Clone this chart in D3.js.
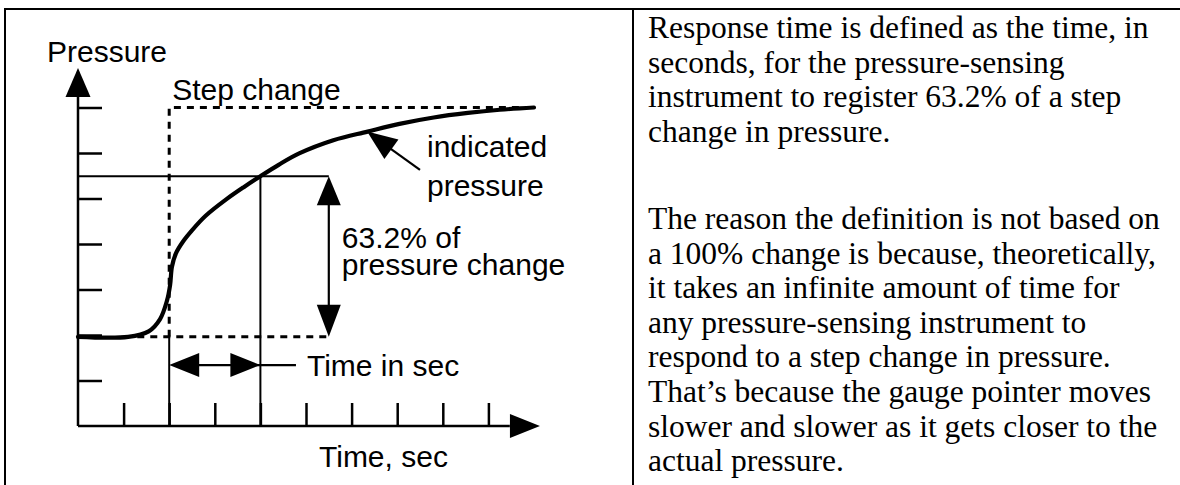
<!DOCTYPE html>
<html>
<head>
<meta charset="utf-8">
<script src="https://cdn.jsdelivr.net/npm/d3@7"></script>
<style>
  body { margin: 0; background: #fff; }
  svg { display: block; }
</style>
</head>
<body>
<svg id="chart" width="1180" height="485"></svg>
<script>
// Tick positions on the two axes (time units, pressure units)
const timeTicks = [1, 2, 3, 4, 5, 6, 7, 8, 9];
const pressureTicks = [1, 2, 3, 4, 5, 6, 7];

// The step change: starting level, final level and the moment of the step
const stepLow = 1.96;
const stepHigh = 7;
const stepTime = 2;

// Level reached at the response time (the "63.2%" line) and the response time
const responseLevel = 5.49;
const responseTime = 4;

// Indicated pressure
const curveTime = [0, 1.1, 1.55, 1.8, 1.95, 2.02, 2.06, 2.15, 2.3, 2.5, 2.8, 3.25, 3.65, 4.0, 4.4, 4.85, 5.6, 6.35, 7.05, 7.8, 8.55, 9.25, 10.0];
const curvePressure = [1.96, 1.96, 2.08, 2.35, 2.75, 3.1, 3.5, 3.8, 4.05, 4.3, 4.62, 4.98, 5.26, 5.49, 5.74, 5.99, 6.28, 6.47, 6.64, 6.78, 6.88, 6.95, 7.0];

// Explanation in the right hand cell, one entry per printed line
const paragraphOne = [
  'Response time is defined as the time, in',
  'seconds, for the pressure-sensing',
  'instrument to register 63.2% of a step',
  'change in pressure.'
];
const paragraphTwo = [
  'The reason the definition is not based on',
  'a 100% change is because, theoretically,',
  'it takes an infinite amount of time for',
  'any pressure-sensing instrument to',
  'respond to a step change in pressure.',
  'That\u2019s because the gauge pointer moves',
  'slower and slower as it gets closer to the',
  'actual pressure.'
];

const svg = d3.select('#chart');
const sans = 'Liberation Sans, Arial, sans-serif';
const serif = 'Liberation Serif, Times New Roman, serif';

// table frame: top rule, left rule and the divider between the two cells
const frame = svg.append('g').attr('stroke', '#000').attr('stroke-width', 2);
frame.append('line').attr('x1', 5).attr('x2', 1180).attr('y1', 9).attr('y2', 9);
frame.append('line').attr('x1', 5).attr('x2', 5).attr('y1', 8).attr('y2', 485);
frame.append('line').attr('x1', 633).attr('x2', 633).attr('y1', 8).attr('y2', 485);

// scales for the sketch
const x = d3.scaleLinear().domain([0, 10]).range([78, 534]);
const y = d3.scaleLinear().domain([0, 7]).range([426, 107.5]);

const plot = svg.append('g');

// draws a filled arrow head with its tip at `tip`, pointing away from `from` (pixel coords)
function arrowHead(g, tip, from, len = 30, half = 12) {
  const dx = tip[0] - from[0], dy = tip[1] - from[1];
  const d = Math.hypot(dx, dy);
  const ux = dx / d, uy = dy / d;
  const bx = tip[0] - ux * len, by = tip[1] - uy * len;
  const pts = [tip, [bx - uy * half, by + ux * half], [bx + uy * half, by - ux * half]];
  g.append('path').attr('d', d3.line()(pts) + 'Z').attr('fill', '#000').attr('stroke', 'none');
}

// x axis: ticks point upwards into the plot
const xAxis = plot.append('g')
  .attr('transform', `translate(0,${y(0)})`)
  .call(d3.axisBottom(x).tickValues(timeTicks).tickSize(-23).tickFormat(''));
xAxis.select('.domain').remove();
xAxis.selectAll('line').attr('stroke-width', 2.5);

// y axis: ticks point to the right
const yAxis = plot.append('g')
  .attr('transform', `translate(${x(0)},0)`)
  .call(d3.axisLeft(y).tickValues(pressureTicks).tickSize(-24).tickFormat(''));
yAxis.select('.domain').remove();
yAxis.selectAll('line').attr('stroke-width', 2.5);

// axis lines plus their arrows
plot.append('line')
  .attr('x1', x(0)).attr('x2', x(9.47)).attr('y1', y(0)).attr('y2', y(0))
  .attr('stroke', '#000').attr('stroke-width', 2.5);
arrowHead(plot, [x(10.13), y(0)], [x(0), y(0)], 30, 12);
plot.append('line')
  .attr('x1', x(0)).attr('x2', x(0)).attr('y1', y(0)).attr('y2', y(7.23))
  .attr('stroke', '#000').attr('stroke-width', 2.5);
arrowHead(plot, [x(0), y(7.87)], [x(0), y(0)], 29, 12.5);

// 63.2% level and the response time line (thin solid)
const thin = plot.append('g').attr('stroke', '#000').attr('stroke-width', 2).attr('fill', 'none');
thin.append('line').attr('x1', x(0)).attr('x2', x(5.5)).attr('y1', y(responseLevel)).attr('y2', y(responseLevel));
thin.append('line').attr('x1', x(responseTime)).attr('x2', x(responseTime)).attr('y1', y(responseLevel)).attr('y2', y(0));
thin.append('line').attr('x1', x(stepTime)).attr('x2', x(stepTime)).attr('y1', y(stepLow)).attr('y2', y(0));

// step change, dashed
const dashed = plot.append('g')
  .attr('stroke', '#000').attr('stroke-width', 3).attr('stroke-dasharray', '7,6').attr('fill', 'none');
dashed.append('path')
  .attr('d', d3.line()([[x(stepTime), y(stepLow)], [x(stepTime), y(stepHigh)], [x(9.9), y(stepHigh)]]));
dashed.append('line')
  .attr('x1', x(1.3)).attr('x2', x(5.5)).attr('y1', y(stepLow)).attr('y2', y(stepLow));

// indicated pressure curve
const curveLine = d3.line()
  .x(d => x(d[0]))
  .y(d => y(d[1]))
  .curve(d3.curveCatmullRom.alpha(0.5));
plot.append('path')
  .datum(curveTime.map((t, i) => [t, curvePressure[i]]))
  .attr('d', curveLine)
  .attr('fill', 'none')
  .attr('stroke', '#000')
  .attr('stroke-width', 4.2)
  .attr('stroke-linecap', 'round');

// vertical double arrow: size of the 63.2% change
const vx = x(5.5);
plot.append('line').attr('x1', vx).attr('x2', vx).attr('y1', y(responseLevel) + 20).attr('y2', y(stepLow) - 20)
  .attr('stroke', '#000').attr('stroke-width', 2.2);
arrowHead(plot, [vx, y(responseLevel)], [vx, y(stepLow)], 29, 12);
arrowHead(plot, [vx, y(stepLow)], [vx, y(responseLevel)], 32, 12);

// horizontal double arrow: the response time, with its leader line
const hy = y(1.34);
plot.append('line').attr('x1', x(stepTime) + 20).attr('x2', x(4.78)).attr('y1', hy).attr('y2', hy)
  .attr('stroke', '#000').attr('stroke-width', 2.2);
arrowHead(plot, [x(stepTime), hy], [x(responseTime), hy], 30, 12);
arrowHead(plot, [x(responseTime), hy], [x(stepTime), hy], 30, 12);

// pointer to the indicated pressure curve
const tail = [x(7.5), y(5.63)];
const tip = [x(6.34), y(6.47)];
plot.append('line').attr('x1', tail[0]).attr('y1', tail[1]).attr('x2', tip[0] + 15).attr('y2', tip[1] + 11)
  .attr('stroke', '#000').attr('stroke-width', 2.2);
arrowHead(plot, tip, tail, 30, 12);

// labels in the sketch
const labels = plot.append('g')
  .attr('font-family', sans)
  .attr('font-size', 30)
  .attr('fill', '#000');
labels.append('text').attr('x', 47).attr('y', 62).text('Pressure');
labels.append('text').attr('x', x(stepTime) + 3).attr('y', 100).text('Step change');
labels.append('text').attr('x', 427).attr('y', 157).text('indicated');
labels.append('text').attr('x', 427).attr('y', 196).text('pressure');
labels.append('text').attr('x', vx + 13).attr('y', 248).text('63.2% of');
labels.append('text').attr('x', vx + 13).attr('y', 275).text('pressure change');
labels.append('text').attr('x', x(4.78) + 11).attr('y', 376).text('Time in sec');
labels.append('text').attr('x', 319).attr('y', 467).text('Time, sec');

// right cell text
const lineH = 34.6;
const para = svg.append('g')
  .attr('font-family', serif)
  .attr('font-size', 31.5)
  .attr('fill', '#000');
para.selectAll('text.p1')
  .data(paragraphOne)
  .join('text')
  .attr('class', 'p1')
  .attr('x', 648)
  .attr('y', (d, i) => 38 + i * lineH)
  .text(d => d);
para.selectAll('text.p2')
  .data(paragraphTwo)
  .join('text')
  .attr('class', 'p2')
  .attr('x', 648)
  .attr('y', (d, i) => 229 + i * lineH)
  .text(d => d);
</script>
</body>
</html>
